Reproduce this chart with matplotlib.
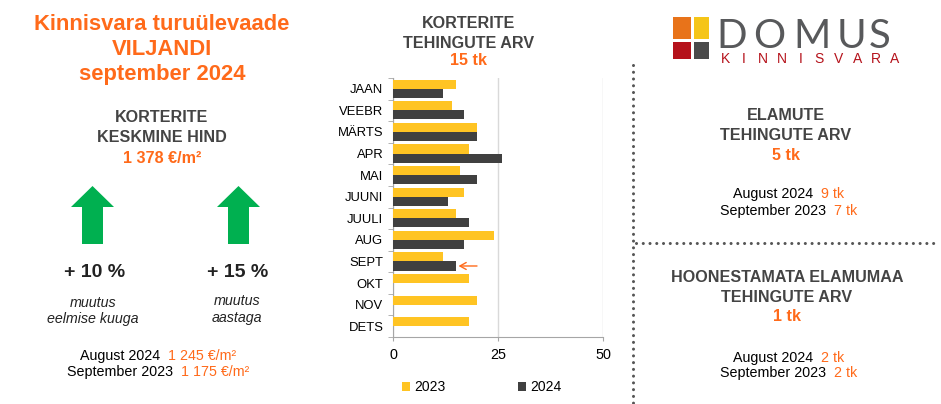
import matplotlib
matplotlib.use("Agg")
import matplotlib.pyplot as plt
import numpy as np
from matplotlib.patches import Polygon, Rectangle
from matplotlib.lines import Line2D

plt.rcParams['font.family'] = ['Liberation Sans', 'DejaVu Sans']

# data
months = ['JAAN', 'VEEBR', 'MÄRTS', 'APR', 'MAI', 'JUUNI', 'JUULI', 'AUG', 'SEPT', 'OKT', 'NOV', 'DETS']
deals_2023 = [15, 14, 20, 18, 16, 17, 15, 24, 12, 18, 20, 18]
deals_2024 = [12, 17, 20, 26, 20, 13, 18, 17, 15]
xticks = [0, 25, 50]

ORANGE = '#FF6A1A'
GRAY = '#444444'
YELLOW = '#FFC423'
DARK = '#404040'
GREEN = '#00B050'

W, H = 941, 404
fig = plt.figure(figsize=(W / 100, H / 100), dpi=100)


def fx(x):
    return x / W


def fy(y):
    return 1 - y / H


def txt(x, y, s, size=11.6, color=GRAY, weight='bold', ha='center', style='normal', **kw):
    fig.text(fx(x), fy(y), s, fontsize=size, color=color, fontweight=weight,
             ha=ha, va='baseline', fontstyle=style, **kw)


def two_tone(xsplit, y, left, right, size=10.3):
    txt(xsplit - 4, y, left, size=size, color='black', weight='normal', ha='right')
    txt(xsplit + 4, y, right, size=size, color=ORANGE, weight='normal', ha='left')


# left panel
txt(162, 30, 'Kinnisvara turuülevaade', size=15.8, color=ORANGE)
txt(162, 55, 'VILJANDI', size=15.8, color=ORANGE)
txt(162, 80, 'september 2024', size=15.8, color=ORANGE)
txt(162, 122, 'KORTERITE')
txt(162, 142, 'KESKMINE HIND')
txt(162, 163, '1 378 €/m²', color=ORANGE)


def up_arrow(cx):
    pts = [(cx - 21.5, 207), (cx, 186), (cx + 21.5, 207), (cx + 10.5, 207),
           (cx + 10.5, 244), (cx - 10.5, 244), (cx - 10.5, 207)]
    fig.patches.append(Polygon([(fx(a), fy(b)) for a, b in pts], closed=True,
                               facecolor=GREEN, edgecolor='none',
                               transform=fig.transFigure))


up_arrow(92.5)
up_arrow(238.5)
txt(95, 277, '+ 10 %', size=14, color='#222222')
txt(238, 277, '+ 15 %', size=14, color='#222222')
txt(93, 307, 'muutus', size=10.3, color='#222222', weight='normal', style='italic')
txt(93, 323, 'eelmise kuuga', size=10.3, color='#222222', weight='normal', style='italic')
txt(237, 305, 'muutus', size=10.3, color='#222222', weight='normal', style='italic')
txt(237, 322, 'aastaga', size=10.3, color='#222222', weight='normal', style='italic')
two_tone(164, 360, 'August 2024', '1 245 €/m²')
two_tone(177, 376, 'September 2023', '1 175 €/m²')

# chart title
txt(469, 28, 'KORTERITE')
txt(469, 48, 'TEHINGUTE ARV')
txt(469, 65, '15 tk', color=ORANGE)

# bar chart
ax = fig.add_axes([fx(393), fy(337), fx(603) - fx(393), fy(78) - fy(337)])
y = np.arange(len(months))
bh = 0.42
ax.barh(y - bh / 2, deals_2023, height=bh, color=YELLOW, label='2023', zorder=3)
ax.barh(y[:len(deals_2024)] + bh / 2, deals_2024, height=bh, color=DARK, label='2024', zorder=3)
ax.set_ylim(len(months) - 0.5, -0.5)
ax.set_xlim(0, 50)
ax.set_xticks(xticks)
ax.set_yticks(y)
ax.set_yticklabels(months)
ax.set_yticks(np.arange(-0.5, len(months), 1), minor=True)
ax.tick_params(axis='y', which='major', length=0, pad=7, labelsize=9.4)
ax.tick_params(axis='y', which='minor', length=3.5, color='#a6a6a6')
ax.tick_params(axis='x', length=3, color='#a6a6a6', pad=5, labelsize=10.4)
ax.grid(axis='x', color='#d9d9d9', lw=1, zorder=0)
for s in ['top', 'right']:
    ax.spines[s].set_visible(False)
for s in ['left', 'bottom']:
    ax.spines[s].set_color('#a6a6a6')
ax.annotate('', xy=(15.6, 8 + bh / 2), xytext=(20.0, 8 + bh / 2),
            arrowprops=dict(arrowstyle='->,head_length=0.45,head_width=0.25',
                            color=ORANGE, lw=1, shrinkA=0, shrinkB=0))
fig.legend(loc='center', bbox_to_anchor=(fx(482), fy(387)), ncol=2, frameon=False,
           fontsize=10, handlelength=0.6, handleheight=0.6, handletextpad=0.3,
           columnspacing=5.2)

# dotted separators
dot = dict(color='#555555', lw=2.2, linestyle=(0, (0.01, 2.2)),
           dash_capstyle='round', transform=fig.transFigure)
fig.lines.append(Line2D([fx(633), fx(633)], [fy(65), fy(404)], **dot))
fig.lines.append(Line2D([fx(636), fx(936)], [fy(243), fy(243)], **dot))

# right panel
txt(786, 120, 'ELAMUTE')
txt(786, 140, 'TEHINGUTE ARV')
txt(786, 160, '5 tk', color=ORANGE)
two_tone(817, 198, 'August 2024', '9 tk')
two_tone(830, 215, 'September 2023', '7 tk')
txt(787, 282, 'HOONESTAMATA ELAMUMAA')
txt(787, 302, 'TEHINGUTE ARV')
txt(787, 321, '1 tk', color=ORANGE)
two_tone(817, 362, 'August 2024', '2 tk')
two_tone(830, 377, 'September 2023', '2 tk')

# logo
for (x0, y0, x1, y1), c in [((673, 17, 691, 39), '#E8731A'), ((694, 17, 709, 39), '#F5C518'),
                            ((673, 42, 691, 59), '#B5121B'), ((694, 42, 709, 59), '#4A4A4A')]:
    fig.patches.append(Rectangle((fx(x0), fy(y1)), fx(x1) - fx(x0), fy(y0) - fy(y1),
                                 facecolor=c, edgecolor='none', transform=fig.transFigure))
for ch, cx in zip('DOMUS', [732, 769, 812, 852, 880]):
    fig.text(fx(cx), fy(48), ch, fontsize=29, color='#58595B', family=['Lato', 'DejaVu Sans'],
             fontweight='normal', ha='center', va='baseline')
for ch, cx in zip('KINNISVARA', np.linspace(725, 895, 10)):
    fig.text(fx(cx), fy(63), ch, fontsize=10, color='#B5121B', ha='center', va='baseline')

fig.savefig('out.png', dpi=100)
